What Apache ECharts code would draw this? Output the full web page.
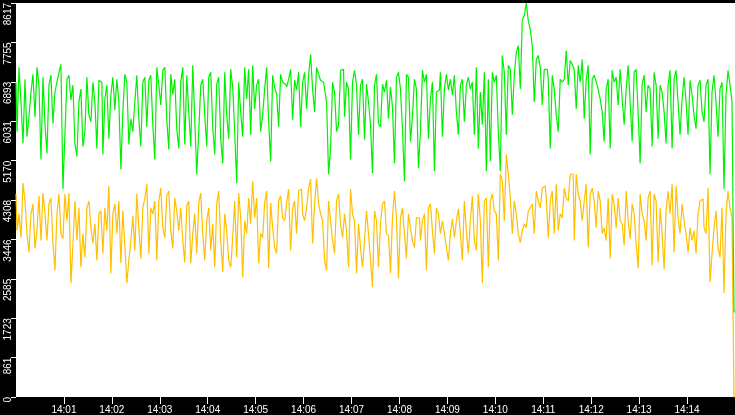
<!DOCTYPE html>
<html>
<head>
<meta charset="utf-8">
<script src="https://cdn.jsdelivr.net/npm/echarts@6/dist/echarts.min.js"></script>
<style>
  html, body { margin: 0; padding: 0; background: #000; }
  #chart { width: 735px; height: 415px; }
</style>
</head>
<body>
<div id="chart"></div>
<script>
// one sample every 2.5 s, 14:00:00 .. 14:15:00
const STEP_SECONDS = 2.5;
const START_LABEL_HOUR = "14";

const Y_MAX = 8617;
const Y_STEP = 861.7;
const MINUTE_TICKS = [60, 120, 180, 240, 300, 360, 420, 480, 540, 600, 660, 720, 780, 840];

// green series in six slices
const green1 = [6885,5803,7210,6452,5543,6950,5694,6127,6669,7058,6127,7210,6820,5196,6993,5976,5326,6820,7037,5976,6669,6885,7102,7275,4547,5738,6950,7037,6495,6820,5543,5261,6452,6734,5478,5803,6993,6171,6019,6885,6452,5435,6928,6885,5305,6517,6820,5651,6604,6993,6279,6950,6452,4980,6236,7058,6885,5521,6084,5803];
const green2 = [6452,7037,6084,5478,6885,6993,5911,6928,7037,5954,5196,7210,6820,6387,7145,7210,6062,5413,7058,6625,6950,5867,5435,6885,7210,5521,7037,6236,5478,7253,6084,4872,5803,6820,6950,6171,5478,6993,7102,5911,5305,6842,6993,5651,5110,7102,6171,5651,7166,6777,5803,4677,6885,6236,5694,7210,6517,7166,5738,7253];
const green3 = [6300,6820,6950,5803,6171,6734,7210,6019,5153,7037,6777,6625,5911,7058,6885,6842,6777,6950,7166,6062,6928,6712,7102,5911,6885,7102,6300,7037,7491,6734,6236,7210,7058,6928,6885,6734,6452,4872,5435,6885,6669,5803,5954,7145,7166,6127,6885,6734,5196,6885,7145,6820,5738,6820,6950,5629,6842,6452,5954,4893];
const green4 = [6820,7058,5976,5911,6842,6669,6928,6084,6777,6344,5110,6993,7102,6734,5867,4720,7058,6993,5586,6127,6950,6734,5001,5803,7145,6885,7058,5651,6517,6885,4937,6669,6712,7102,5694,6734,7058,6712,6950,6604,7037,6236,5738,6820,6950,6019,6820,6993,6734,6885,5738,7210,5435,6669,5954,7102,4937,6950,5153,7102];
const green5 = [6885,7037,5803,4937,7470,7102,5738,7253,7166,6171,7058,7535,7686,6734,8249,8336,8617,8227,8032,7686,6452,7383,7470,7210,6387,7166,7166,6950,5435,7037,6734,6171,5803,6950,6885,6950,7578,6820,7361,7275,7166,6300,7253,6885,7383,6084,6950,7253,5305,6950,7037,6885,6734,6517,6236,5586,6734,6950,5435,7145];
const green6 = [6885,6993,6387,7166,6517,5954,6734,7253,6452,5586,7102,7166,6236,5110,6842,7037,6236,6820,6734,5478,7102,6820,5651,6820,6669,6236,5543,6820,7145,5435,6950,7145,6452,5738,6517,6993,6452,5738,6928,6604,6171,5867,6820,6928,6236,6019,6820,6950,4872,6669,7037,6452,5694,6734,6885,4547,6604,7145,6820,6452,1862];

// yellow series, same slices
const yellow1 = [4439,3638,4006,3486,4677,4287,3573,3161,4006,4222,3248,3638,4395,3421,4460,4006,3421,4222,4352,3356,2771,4006,4439,3573,3464,4439,3854,4460,2490,3313,4287,3421,4136,2836,3573,3053,4136,4287,3702,3356,3789,2988,4006,4071,3140,4136,3638,4612,2706,4006,4222,3573,4287,2923,4071,3313,2490,2988,3421,3962];
const yellow2 = [3205,4439,3702,3031,4136,4352,4655,3140,4136,4006,4287,2988,4287,4569,3702,3486,4395,4504,3638,3248,4352,4071,3638,4136,3421,2945,4179,4287,2923,3573,4006,3140,4244,4460,3573,2988,3854,4136,3205,3789,2836,4222,4504,3421,2728,4006,3638,2988,2836,3486,4287,3053,4460,3919,2620,3854,3573,4352,3789,4720];
const yellow3 = [3919,4352,2923,3573,3486,4244,4504,2815,4244,3702,3269,3140,4287,4395,3919,3854,4244,4547,3205,4114,4287,3573,4504,4547,4006,3854,4136,4569,4764,3356,4222,4785,4222,4006,3854,2988,2771,4287,3854,3421,3140,4287,4439,3789,3486,4006,3638,2836,4547,4006,3854,2706,3789,3269,2836,3421,4071,3573,2988,2403];
const yellow4 = [4071,3854,2836,3789,4222,4287,3573,3529,2706,3919,4504,3919,2598,3919,4136,3573,3031,4006,3702,3421,3269,3919,3919,3421,3854,4006,2771,4136,4222,3638,3140,4136,4006,3573,3854,3573,3269,2988,3573,3897,3486,3854,4114,3573,2988,4287,3638,3140,3854,4395,3421,3205,4439,3854,2490,4287,4352,2836,4287,4439];
const yellow5 = [4071,4006,2988,4872,4720,3854,5305,4872,4352,3573,4287,4006,3573,3378,3638,3789,3702,4071,4136,4222,3573,4504,4287,4136,4569,4612,4352,3486,4287,4504,3573,4655,3638,4006,3919,4569,4352,4287,4872,4872,3421,4872,4439,4287,3854,4287,4655,3269,4439,4569,4287,3702,4504,4287,3573,3702,3421,4352,3031,4439];
const yellow6 = [4222,3702,4352,3854,3789,3313,4504,3854,3464,4222,4006,3356,2815,4439,4006,3854,3421,4352,4504,2880,4439,4287,2945,4136,3573,2793,4071,4504,4006,4655,3161,4612,3919,3573,4222,3854,3573,3161,3702,3421,3638,3140,4006,4287,4330,3702,3573,4569,2512,3140,3702,4071,3269,3053,4136,2274,4006,4504,4136,3919,0];

const greenValues = [].concat(green1, green2, green3, green4, green5, green6);
const yellowValues = [].concat(yellow1, yellow2, yellow3, yellow4, yellow5, yellow6);

function withTimes(values) {
  return values.map((v, i) => [i * STEP_SECONDS, v]);
}

function minuteLabel(sec) {
  const m = Math.round(sec / 60);
  return START_LABEL_HOUR + ":" + String(m).padStart(2, "0");
}

const chart = echarts.init(document.getElementById("chart"));
const labelFont = { color: "#fff", fontFamily: "Liberation Sans", fontSize: 10 };

chart.setOption({
  animation: false,
  backgroundColor: "#000",
  grid: {
    left: 16, right: 0, top: 0, bottom: 16,
    show: true, backgroundColor: "#fff", borderWidth: 0
  },
  xAxis: {
    type: "value",
    min: 0,
    max: 900,
    interval: 60,
    axisLine: { show: false },
    splitLine: { show: false },
    axisTick: {
      show: true, length: 7, inside: false,
      customValues: MINUTE_TICKS,
      lineStyle: { color: "#fff", width: 1 }
    },
    axisLabel: {
      ...labelFont,
      margin: 8,
      customValues: MINUTE_TICKS,
      formatter: (v) => minuteLabel(v)
    }
  },
  yAxis: {
    type: "value",
    min: 0,
    max: Y_MAX,
    interval: Y_STEP,
    axisLine: { show: false },
    splitLine: { show: false },
    axisTick: { show: true, length: 5, lineStyle: { color: "#fff", width: 1 } },
    axisLabel: {
      ...labelFont,
      rotate: 90,
      align: "right",
      verticalAlign: "middle",
      margin: 8,
      formatter: (v) => String(Math.floor(v + 1e-6))
    }
  },
  series: [
    {
      name: "yellow",
      type: "line",
      step: "middle",
      showSymbol: false,
      data: withTimes(yellowValues),
      lineStyle: { color: "#ffc000", width: 1.2 },
      itemStyle: { color: "#ffc000" }
    },
    {
      name: "green",
      type: "line",
      step: "middle",
      showSymbol: false,
      data: withTimes(greenValues),
      lineStyle: { color: "#00f000", width: 1.2 },
      itemStyle: { color: "#00f000" }
    }
  ]
});
</script>
</body>
</html>
